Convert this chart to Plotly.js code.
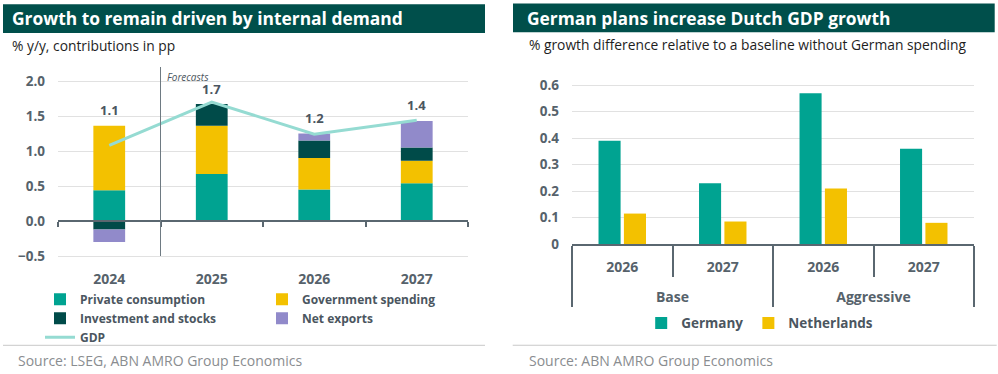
<!DOCTYPE html>
<html>
<head>
<meta charset="utf-8">
<script src="https://cdn.plot.ly/plotly-3.0.1.min.js"></script>
<style>
  html, body { margin: 0; padding: 0; background: #ffffff; }
  #wrap { width: 998px; height: 374px; position: relative; overflow: hidden; }
  #left { position: absolute; left: 0; top: 0; width: 499px; height: 374px; }
  #right { position: absolute; left: 499px; top: 0; width: 499px; height: 374px; }
</style>
</head>
<body>
<div id="wrap"><div id="left"></div><div id="right"></div></div>
<script>
// ---------- Data: left chart ----------
const years = ['2024', '2025', '2026', '2027'];
const privateConsumption = [0.44, 0.67, 0.45, 0.54];
const governmentSpending = [0.92, 0.69, 0.45, 0.32];
const investmentStocks = [-0.12, 0.31, 0.25, 0.19];
const netExports = [-0.18, 0.00, 0.10, 0.38];
const gdpGrowth = [1.08, 1.70, 1.24, 1.44];
const leftSeriesNames = ['Private consumption', 'Government spending', 'Investment and stocks', 'Net exports', 'GDP'];
const leftYTicks = [-0.5, 0.0, 0.5, 1.0, 1.5, 2.0];

// ---------- Data: right chart ----------
const scenarios = ['Base', 'Base', 'Aggressive', 'Aggressive'];
const scenarioYears = ['2026', '2027', '2026', '2027'];
const germany = [0.39, 0.23, 0.57, 0.36];
const netherlands = [0.115, 0.085, 0.21, 0.08];
const rightSeriesNames = ['Germany', 'Netherlands'];
const rightYTicks = [0, 0.1, 0.2, 0.3, 0.4, 0.5, 0.6];

// ---------- Style ----------
const FONT = '"Open Sans", Lato, "DejaVu Sans", sans-serif';
const C_TEAL = '#00a391';
const C_YELLOW = '#f3c100';
const C_DARK = '#004b49';
const C_PURPLE = '#918aca';
const C_GDP = '#95dbd2';
const C_BAND = '#004f4b';
const C_AXIS = '#5a6770';
const C_TICK = '#56626b';
const C_GRID = '#e1e1e1';
const C_SRC = '#8a8d90';

const W = 499, H = 374;

function conv(ml, mt, pw, ph) {
  return {
    x: p => (p - ml) / pw,
    y: p => (mt + ph - p) / ph
  };
}

// ================= LEFT =================
(function () {
  const ml = 58, mr = 31, mt = 66.7, mb = 111.3;
  const pw = W - ml - mr, ph = H - mt - mb;
  const c = conv(ml, mt, pw, ph);
  const yr = [-0.6, 2.2];

  const totalsPos = years.map((_, i) =>
    [privateConsumption[i], governmentSpending[i], investmentStocks[i], netExports[i]]
      .filter(v => v > 0).reduce((a, b) => a + b, 0));

  const barSeries = [privateConsumption, governmentSpending, investmentStocks, netExports];
  const barColors = [C_TEAL, C_YELLOW, C_DARK, C_PURPLE];
  const traces = barSeries.map((vals, k) => ({
    type: 'bar', x: years, y: vals, name: leftSeriesNames[k],
    marker: { color: barColors[k], line: { width: 0 } },
    hoverinfo: 'skip', legend: 'legend'
  }));
  traces.push({
    type: 'scatter', mode: 'lines', x: years, y: gdpGrowth, name: leftSeriesNames[4],
    line: { color: C_GDP, width: 3 }, hoverinfo: 'skip', legend: 'legend'
  });

  const annotations = years.map((yv, i) => ({
    x: i, y: totalsPos[i], xref: 'x', yref: 'y',
    text: gdpGrowth[i].toFixed(1), showarrow: false, yanchor: 'middle', yshift: 15.5,
    font: { family: FONT, size: 13, color: '#4b5660', weight: 700 }
  }));
  annotations.push({
    x: 0.5, y: 2.06, xref: 'x', yref: 'y', text: 'Forecasts', showarrow: false,
    xanchor: 'left', yanchor: 'middle', xshift: 4,
    font: { family: FONT, size: 10, color: '#4b5660', style: 'italic' }
  });
  annotations.push({
    x: c.x(10), y: c.y(45), xref: 'paper', yref: 'paper', text: '% y/y, contributions in pp',
    showarrow: false, xanchor: 'left', yanchor: 'middle',
    font: { family: FONT, size: 13.8, color: '#1e1e1e' }
  });
  annotations.push({
    x: c.x(16), y: c.y(360), xref: 'paper', yref: 'paper', text: 'Source: LSEG, ABN AMRO Group Economics',
    showarrow: false, xanchor: 'left', yanchor: 'middle',
    font: { family: FONT, size: 14, color: C_SRC }
  });

  const shapes = [
    { type: 'rect', xref: 'paper', yref: 'paper', x0: c.x(3), x1: c.x(485), y0: c.y(32.7), y1: c.y(4),
      fillcolor: C_BAND, line: { width: 0 }, layer: 'below' },
    { type: 'line', xref: 'x', yref: 'y', x0: 0.5, x1: 0.5, y0: -0.5, y1: yr[1],
      line: { color: '#6e7a82', width: 1 } },
    { type: 'line', xref: 'paper', yref: 'paper', x0: c.x(3), x1: c.x(485), y0: c.y(345), y1: c.y(345),
      line: { color: '#c8c8c8', width: 1 } }
  ];

  const layout = {
    width: W, height: H,
    margin: { l: ml, r: mr, t: mt, b: mb, pad: 0 },
    paper_bgcolor: '#ffffff', plot_bgcolor: '#ffffff',
    font: { family: FONT },
    title: {
      text: 'Growth to remain driven by internal demand',
      x: 12 / W, xref: 'container', xanchor: 'left',
      y: 1 - 18.5 / H, yref: 'container', yanchor: 'middle',
      font: { family: FONT, size: 17.4, color: '#ffffff', weight: 700 }
    },
    barmode: 'relative', bargap: 0.69,
    showlegend: true,
    legend: {
      orientation: 'h', x: c.x(40), xanchor: 'left', y: c.y(318), yanchor: 'middle',
      entrywidth: 177, entrywidthmode: 'pixels', traceorder: 'normal',
      font: { family: FONT, size: 12, color: '#4b5660', weight: 700 },
      bgcolor: 'rgba(0,0,0,0)', itemclick: false, itemdoubleclick: false
    },
    xaxis: {
      type: 'category', categoryarray: years, range: [-0.5, 3.5],
      anchor: 'free', position: (0 - yr[0]) / (yr[1] - yr[0]),
      showline: true, linecolor: C_AXIS, linewidth: 2,
      ticks: 'outside', ticklen: 5, tickwidth: 2, tickcolor: C_AXIS, tickson: 'boundaries',
      showgrid: false, zeroline: false, ticklabelstandoff: 45,
      tickfont: { family: FONT, size: 14, color: C_TICK, weight: 700 }
    },
    yaxis: {
      range: yr, tickvals: leftYTicks, tickformat: '.1f',
      showgrid: true, gridcolor: C_GRID, gridwidth: 1,
      zeroline: false, showline: false, ticks: '', ticklabelstandoff: 12,
      tickfont: { family: FONT, size: 13.5, color: C_TICK, weight: 700 }
    },
    annotations: annotations,
    shapes: shapes
  };
  Plotly.newPlot('left', traces, layout, { staticPlot: true, displayModeBar: false });
})();

// ================= RIGHT =================
(function () {
  const ml = 73.3, mr = 23.7, mt = 72.4, mb = 130;
  const pw = W - ml - mr, ph = H - mt - mb;
  const c = conv(ml, mt, pw, ph);

  // year labels get an empty second line so the scenario row sits lower, as in the reference
  const xCats = [scenarios, scenarioYears.map(y => y + '<br>\u00a0')];

  const traces = [
    { type: 'bar', x: xCats, y: germany, name: rightSeriesNames[0],
      marker: { color: C_TEAL, line: { width: 0 } }, hoverinfo: 'skip' },
    { type: 'bar', x: xCats, y: netherlands, name: rightSeriesNames[1],
      marker: { color: C_YELLOW, line: { width: 0 } }, hoverinfo: 'skip' }
  ];

  const annotations = [
    { x: c.x(28), y: c.y(45), xref: 'paper', yref: 'paper',
      text: '% growth difference relative to a baseline without German spending',
      showarrow: false, xanchor: 'left', yanchor: 'middle',
      font: { family: FONT, size: 13.8, color: '#1e1e1e' } },
    { x: c.x(28), y: c.y(360), xref: 'paper', yref: 'paper', text: 'Source: ABN AMRO Group Economics',
      showarrow: false, xanchor: 'left', yanchor: 'middle',
      font: { family: FONT, size: 14, color: C_SRC } }
  ];

  const shapes = [
    { type: 'rect', xref: 'paper', yref: 'paper', x0: c.x(14.3), x1: c.x(496), y0: c.y(32.7), y1: c.y(4),
      fillcolor: C_BAND, line: { width: 0 }, layer: 'below' },
    { type: 'line', xref: 'paper', yref: 'paper', x0: c.x(14), x1: c.x(498), y0: c.y(345), y1: c.y(345),
      line: { color: '#c8c8c8', width: 1 } }
  ];

  const layout = {
    width: W, height: H,
    margin: { l: ml, r: mr, t: mt, b: mb, pad: 0 },
    paper_bgcolor: '#ffffff', plot_bgcolor: '#ffffff',
    font: { family: FONT },
    title: {
      text: 'German plans increase Dutch GDP growth',
      x: 28 / W, xref: 'container', xanchor: 'left',
      y: 1 - 18.5 / H, yref: 'container', yanchor: 'middle',
      font: { family: FONT, size: 17.4, color: '#ffffff', weight: 700 }
    },
    barmode: 'group', bargap: 0.495, bargroupgap: 0.13,
    showlegend: true,
    legend: {
      orientation: 'h', x: c.x(760 - 499), xanchor: 'center', y: c.y(323), yanchor: 'middle',
      traceorder: 'normal',
      font: { family: FONT, size: 13.5, color: '#4b5660', weight: 700 },
      bgcolor: 'rgba(0,0,0,0)', itemclick: false, itemdoubleclick: false
    },
    xaxis: {
      type: 'multicategory',
      showline: true, linecolor: C_AXIS, linewidth: 2,
      ticks: 'outside', ticklen: 31, tickwidth: 2, tickcolor: C_AXIS,
      showdividers: true, dividercolor: C_AXIS, dividerwidth: 2,
      showgrid: false, zeroline: false, ticklabelstandoff: 9,
      tickfont: { family: FONT, size: 14, color: C_TICK, weight: 700 }
    },
    yaxis: {
      range: [0, 0.65], tickvals: rightYTicks,
      showgrid: true, gridcolor: C_GRID, gridwidth: 1,
      zeroline: false, showline: false, ticks: '', ticklabelstandoff: 12,
      tickfont: { family: FONT, size: 13.5, color: C_TICK, weight: 700 }
    },
    annotations: annotations,
    shapes: shapes
  };
  Plotly.newPlot('right', traces, layout, { staticPlot: true, displayModeBar: false });
})();
</script>
</body>
</html>
